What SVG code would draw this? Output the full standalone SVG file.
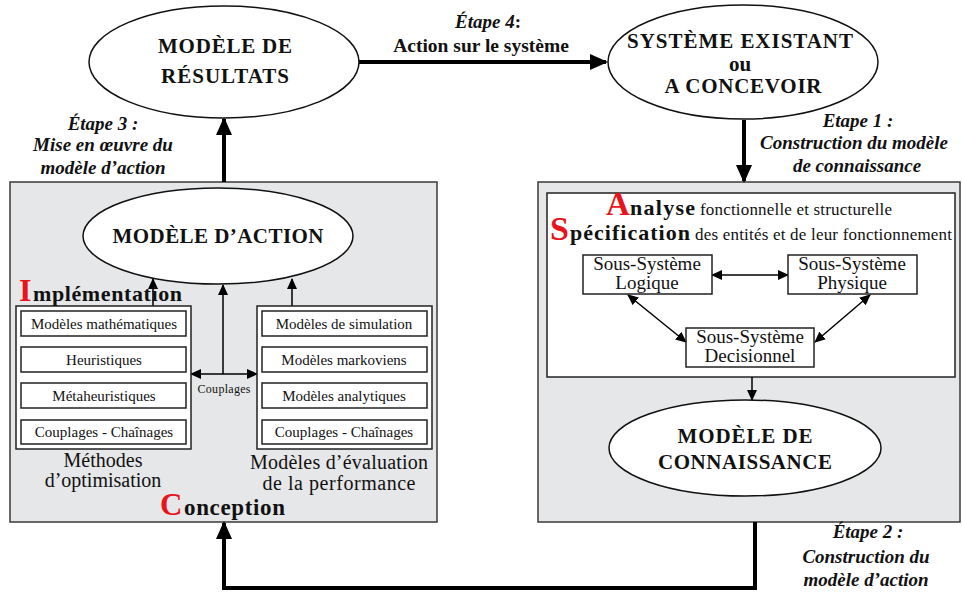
<svg xmlns="http://www.w3.org/2000/svg" width="962" height="595" viewBox="0 0 962 595">
<style>
text{font-family:"Liberation Serif","Times New Roman",serif;fill:#111}
.cap{font-size:21px;font-weight:bold;text-anchor:middle}
.lab{font-size:19px;font-weight:bold;font-style:italic;text-anchor:middle}
.sm{font-size:15px;text-anchor:middle}
.ss{font-size:19px;text-anchor:middle}
.mid{font-size:20px;text-anchor:middle}
.red{fill:#e8141c;font-weight:bold}
.b{font-weight:bold}
.ell{fill:#fff;stroke:#111;stroke-width:1.5}
.gray{fill:#e6e7e8;stroke:#3a3a3a;stroke-width:1.5}
.box{fill:#fff;stroke:#222;stroke-width:1.5}
.thick{fill:none;stroke:#000;stroke-width:4}
.thin{fill:none;stroke:#000;stroke-width:1.5}
</style>
<defs>
<marker id="big" markerUnits="userSpaceOnUse" markerWidth="18" markerHeight="16" refX="16" refY="8" orient="auto">
<path d="M0,0 L18,8 L0,16 Z" fill="#000"/>
</marker>
<marker id="sm" markerUnits="userSpaceOnUse" markerWidth="11" markerHeight="10" refX="10" refY="5" orient="auto-start-reverse">
<path d="M0,0 L11,5 L0,10 Z" fill="#000"/>
</marker>
</defs>

<g id="panel-conception">
<rect class="gray" x="10" y="182" width="427" height="340"/>
</g>
<g id="panel-connaissance">
<rect class="gray" x="538" y="182" width="422" height="340"/>
<rect class="box" x="547" y="193" width="408" height="184"/>
</g>

<g id="connectors">
<line class="thick" x1="358" y1="62" x2="606" y2="62" marker-end="url(#big)"/>
<line class="thick" x1="744" y1="120" x2="744" y2="181" marker-end="url(#big)"/>
<line class="thick" x1="224" y1="182" x2="224" y2="119" marker-end="url(#big)"/>
<path class="thick" d="M755,522 V588 H224 V523" marker-end="url(#big)"/>
<line class="thin" x1="153" y1="306" x2="153" y2="279" marker-end="url(#sm)"/>
<line class="thin" x1="223" y1="374" x2="223" y2="285" marker-end="url(#sm)"/>
<line class="thin" x1="292" y1="306" x2="292" y2="279" marker-end="url(#sm)"/>
<line class="thin" x1="191" y1="374" x2="257" y2="374" marker-start="url(#sm)" marker-end="url(#sm)"/>
<line class="thin" x1="712" y1="275" x2="788" y2="275" marker-start="url(#sm)" marker-end="url(#sm)"/>
<line class="thin" x1="628" y1="295" x2="686" y2="342" marker-start="url(#sm)" marker-end="url(#sm)"/>
<line class="thin" x1="870" y1="295" x2="815" y2="342" marker-start="url(#sm)" marker-end="url(#sm)"/>
<line class="thin" x1="752" y1="377" x2="752" y2="400" marker-end="url(#sm)"/>
</g>

<g id="label-etape4">
<text class="lab" x="488" y="28">Étape 4<tspan font-style="normal">:</tspan></text>
<text x="481" y="52" font-size="19.5" font-weight="bold" text-anchor="middle">Action sur le système</text>
</g>
<g id="label-etape1">
<text class="lab" x="858" y="127">Etape 1 :</text>
<text class="lab" x="854" y="149">Construction du modèle</text>
<text class="lab" x="857" y="172">de connaissance</text>
</g>
<g id="label-etape3">
<text class="lab" x="103" y="130">Étape 3 :</text>
<text class="lab" x="103" y="151">Mise en œuvre  du</text>
<text class="lab" x="103" y="174">modèle d’action</text>
</g>
<g id="label-etape2">
<text class="lab" x="868" y="538">Étape 2 :</text>
<text class="lab" x="866" y="563">Construction du</text>
<text class="lab" x="866" y="586">modèle d’action</text>
</g>

<g id="node-resultats">
<ellipse class="ell" cx="224" cy="62" rx="135" ry="56"/>
<text class="cap" x="225" y="53" textLength="134">MODÈLE DE</text>
<text class="cap" x="225" y="83" textLength="128">RÉSULTATS</text>
</g>

<g id="node-systeme">
<ellipse class="ell" cx="743" cy="62" rx="135" ry="57"/>
<text class="cap" x="740" y="48" font-size="20" textLength="226">SYSTÈME EXISTANT</text>
<text class="cap" x="740" y="71" font-size="18">ou</text>
<text class="cap" x="743" y="93" font-size="20" textLength="157">A CONCEVOIR</text>
</g>

<g id="node-action">
<ellipse class="ell" cx="218" cy="236" rx="135" ry="48"/>
<text class="cap" x="218" y="243" textLength="211">MODÈLE D’ACTION</text>
</g>

<g id="node-implementation">
<text x="19" y="301" font-size="32" class="red">I</text>
<text x="33" y="301" font-size="22" class="b" textLength="149">mplémentation</text>
</g>

<g id="node-optimisation">
<rect class="box" x="16" y="306" width="175" height="143"/>
<rect class="box" x="21" y="311" width="165" height="25"/>
<rect class="box" x="21" y="347" width="165" height="25"/>
<rect class="box" x="21" y="383" width="165" height="25"/>
<rect class="box" x="21" y="420" width="165" height="24"/>
<text class="sm" x="104" y="329">Modèles mathématiques</text>
<text class="sm" x="104" y="365">Heuristiques</text>
<text class="sm" x="104" y="401">Métaheuristiques</text>
<text class="sm" x="104" y="437">Couplages - Chaînages</text>
<text class="mid" x="103" y="467">Méthodes</text>
<text class="mid" x="103" y="487">d’optimisation</text>
</g>

<g id="node-evaluation">
<rect class="box" x="257" y="306" width="175" height="143"/>
<rect class="box" x="262" y="311" width="165" height="25"/>
<rect class="box" x="262" y="347" width="165" height="25"/>
<rect class="box" x="262" y="383" width="165" height="25"/>
<rect class="box" x="262" y="420" width="165" height="24"/>
<text class="sm" x="344" y="329">Modèles de simulation</text>
<text class="sm" x="344" y="365">Modèles markoviens</text>
<text class="sm" x="344" y="401">Modèles analytiques</text>
<text class="sm" x="344" y="437">Couplages - Chaînages</text>
<text class="mid" x="339" y="469" textLength="178">Modèles d’évaluation</text>
<text class="mid" x="339" y="490" textLength="153">de la performance</text>
</g>

<g id="label-couplages">
<text x="224" y="393" font-size="12" text-anchor="middle" textLength="53">Couplages</text>
</g>

<g id="node-conception">
<text x="160" y="515" font-size="31" class="red">C</text>
<text x="184" y="515" font-size="23" class="b" textLength="101">onception</text>
</g>

<g id="node-analyse">
<text x="606" y="215" font-size="33" class="red">A</text>
<text x="630" y="215" font-size="22" class="b" textLength="65">nalyse</text>
<text x="700" y="215" font-size="17" textLength="192">fonctionnelle et structurelle</text>
<text x="550" y="240" font-size="34" class="red">S</text>
<text x="570" y="240" font-size="22" class="b" textLength="120">pécification</text>
<text x="695" y="240" font-size="17" textLength="257">des entités et de leur fonctionnement</text>
</g>

<g id="node-logique">
<rect class="box" x="583" y="255" width="129" height="39"/>
<text class="ss" x="647" y="270">Sous-Système</text>
<text class="ss" x="647" y="289">Logique</text>
</g>
<g id="node-physique">
<rect class="box" x="788" y="255" width="129" height="39"/>
<text class="ss" x="852" y="270">Sous-Système</text>
<text class="ss" x="852" y="289">Physique</text>
</g>
<g id="node-decisionnel">
<rect class="box" x="686" y="328" width="128" height="39"/>
<text class="ss" x="750" y="343">Sous-Système</text>
<text class="ss" x="750" y="362">Decisionnel</text>
</g>

<g id="node-connaissance">
<ellipse class="ell" cx="745" cy="448" rx="136" ry="48"/>
<text class="cap" x="745" y="443" textLength="135">MODÈLE DE</text>
<text class="cap" x="745" y="469" textLength="174">CONNAISSANCE</text>
</g>
</svg>
